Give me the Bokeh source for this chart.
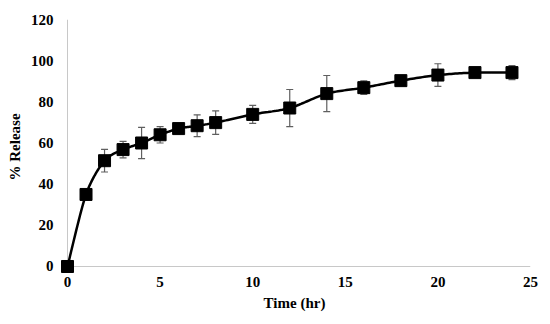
import numpy as np
from bokeh.plotting import figure
from bokeh.models import ColumnDataSource, Whisker, FixedTicker, Range1d
from bokeh.embed import file_html
from bokeh.resources import INLINE

time_hr = [0, 1, 2, 3, 4, 5, 6, 7, 8, 10, 12, 14, 16, 18, 20, 22, 24]
release = [0, 35, 51.4, 56.8, 60, 64, 67, 68.4, 69.9, 73.9, 77, 84, 86.9, 90.3, 93, 94.2, 94.2]
err = [0, 0, 5.5, 4, 7.6, 4, 1, 5.3, 5.7, 4.4, 9, 8.8, 3.3, 2, 5.5, 1, 3.4]
x_ticks = [0, 5, 10, 15, 20, 25]
y_ticks = [0, 20, 40, 60, 80, 100, 120]

FONT = "Liberation Serif"

p = figure(width=550, height=324, output_backend="svg", toolbar_location=None,
           x_range=Range1d(-0.486, 25), y_range=Range1d(-3.887, 120),
           min_border_left=58, min_border_right=20, min_border_top=19, min_border_bottom=50)
p.outline_line_color = None
p.xgrid.visible = False
p.ygrid.visible = False

for ax in (p.xaxis[0], p.yaxis[0]):
    ax.axis_line_color = None
    ax.major_tick_line_color = None
    ax.minor_tick_line_color = None
    ax.major_tick_out = 0
    ax.major_tick_in = 0
    ax.major_label_text_font = FONT
    ax.major_label_text_font_style = "bold"
    ax.major_label_text_font_size = "15px"
    ax.major_label_text_color = "black"
    ax.axis_label_text_font = FONT
    ax.axis_label_text_font_style = "bold"
    ax.axis_label_text_font_size = "15px"
    ax.axis_label_text_color = "black"

p.xaxis.ticker = FixedTicker(ticks=x_ticks)
p.yaxis.ticker = FixedTicker(ticks=y_ticks)
p.xaxis.axis_label = "Time (hr)"
p.yaxis.axis_label = "% Release"
p.xaxis.major_label_standoff = 2
p.yaxis.major_label_standoff = 5
p.xaxis.axis_label_standoff = 5
p.yaxis.axis_label_standoff = 5

# axis lines
p.segment(x0=[x_ticks[0], x_ticks[0]], y0=[y_ticks[0], y_ticks[0]],
          x1=[x_ticks[-1], x_ticks[0]], y1=[y_ticks[0], y_ticks[-1]],
          line_color="#c8c8c8", line_width=1)

# smooth curve (cardinal spline through the data points)
xs = np.array(time_hr, float)
ys = np.array(release, float)
P = np.column_stack([xs, ys])
Pp = np.vstack([P[0], P, P[-1]])
cx, cy = [], []
t = np.linspace(0, 1, 20)
for i in range(1, len(Pp) - 2):
    p0, p1, p2, p3 = Pp[i - 1], Pp[i], Pp[i + 1], Pp[i + 2]
    m1 = (p2 - p0) / 2 * 0.85
    m2 = (p3 - p1) / 2 * 0.85
    h00 = 2 * t**3 - 3 * t**2 + 1
    h10 = t**3 - 2 * t**2 + t
    h01 = -2 * t**3 + 3 * t**2
    h11 = t**3 - t**2
    seg = (np.outer(h00, p1) + np.outer(h10, m1) + np.outer(h01, p2) + np.outer(h11, m2))
    cx.extend(seg[:, 0]); cy.extend(seg[:, 1])
p.line(cx, cy, line_color="black", line_width=2.5)

src = ColumnDataSource(dict(x=time_hr, y=release,
                            lo=[r - e for r, e in zip(release, err)],
                            hi=[r + e for r, e in zip(release, err)]))
wh = Whisker(source=src, base="x", lower="lo", upper="hi", line_color="#5f5f5f", line_width=1.2)
wh.upper_head.line_color = "#5f5f5f"
wh.lower_head.line_color = "#5f5f5f"
wh.upper_head.line_width = 1.2
wh.lower_head.line_width = 1.2
wh.upper_head.size = 7
wh.lower_head.size = 7
p.add_layout(wh)

p.scatter("x", "y", source=src, marker="square", size=12, fill_color="black", line_color="black")

open("out.html", "w").write(file_html(p, INLINE))
